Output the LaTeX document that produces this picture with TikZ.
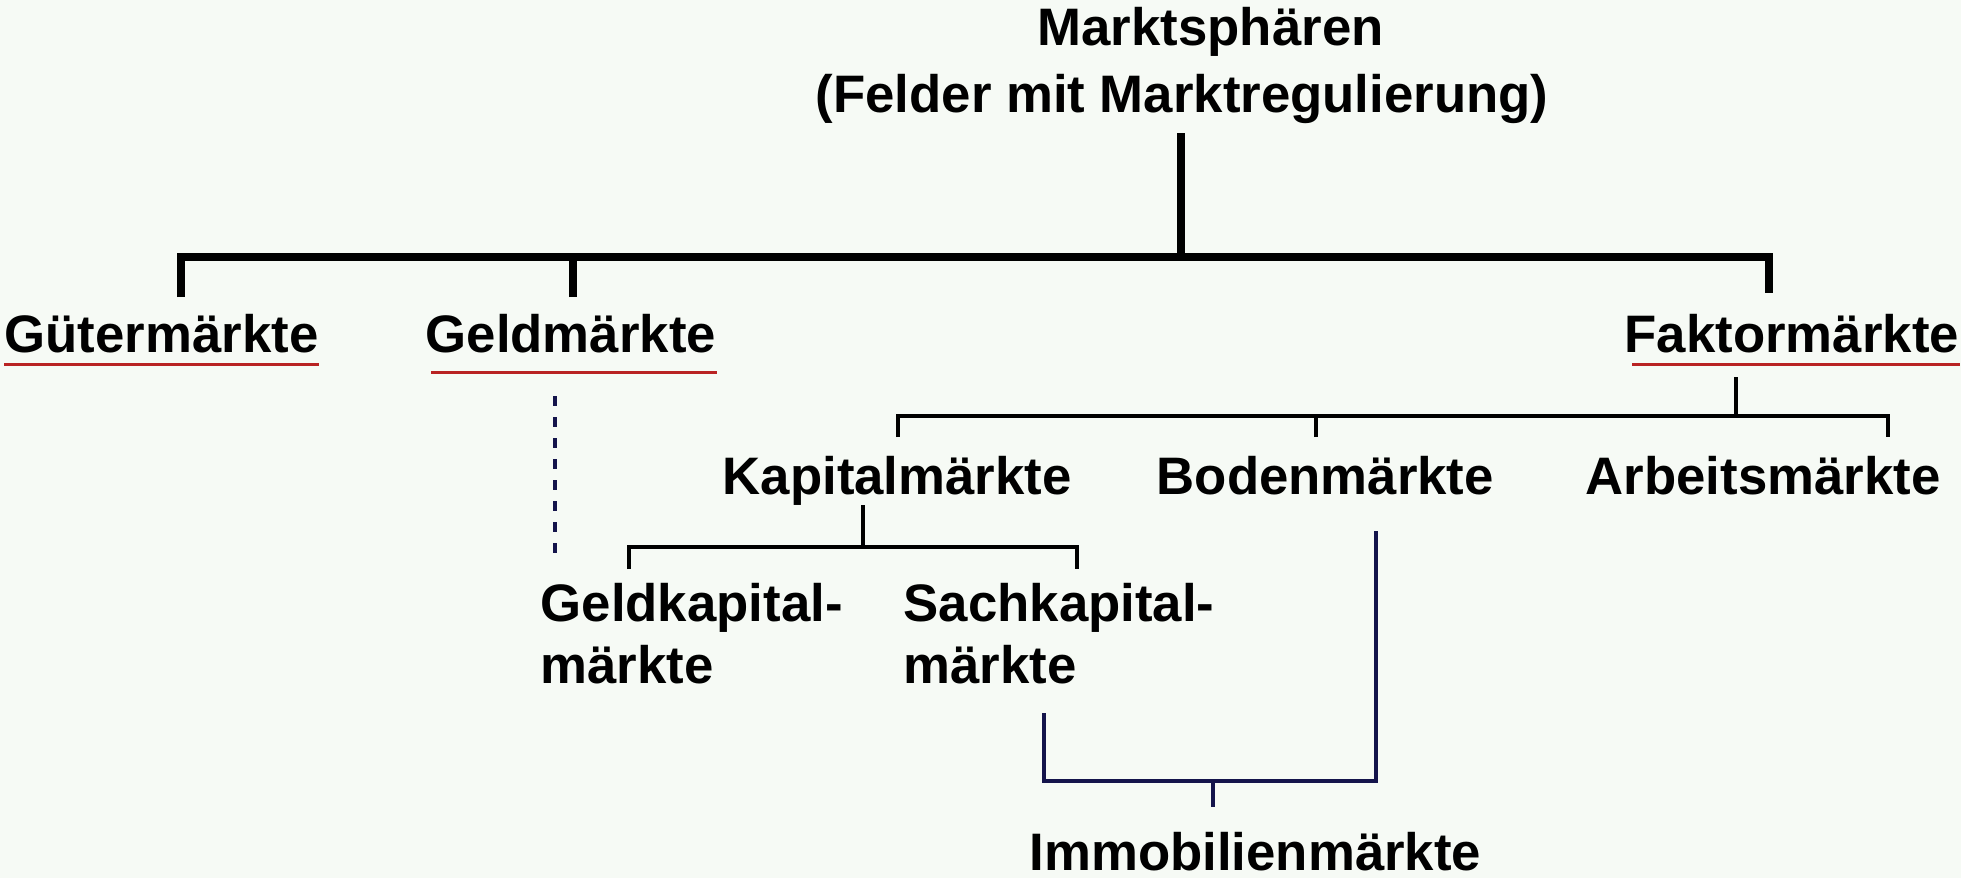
\documentclass[tikz,border=0pt]{standalone}
\usepackage{fontspec}
\setmainfont{Liberation Sans}
\usetikzlibrary{positioning}
\definecolor{grund}{RGB}{246,250,245}
\definecolor{strichrot}{RGB}{185,35,35}
\definecolor{marine}{RGB}{20,20,75}
\tikzset{
  txt/.style={anchor=base west,inner sep=0pt,font=\bfseries\fontsize{15}{17.4}\selectfont,align=left},
  balken/.style={line width=2.2pt},
  duenn/.style={line width=0.9pt},
  unter/.style={draw=strichrot,line width=0.85pt},
  blau/.style={draw=marine,line width=1pt},
}
\begin{document}
\begin{tikzpicture}[x=0.01cm,y=-0.01cm]
\fill[grund] (0,0) rectangle (1961,878);
\useasboundingbox (0,0) rectangle (1961,878);

% ueberschrift
\node[txt](ms) at (1037,45){Marktsphären};
\node[txt](fm) at (815,112){(Felder mit Marktregulierung)};

% erste ebene
\node[txt](gue) at (4,352){Gütermärkte};
\node[txt](geld) at (425,352){Geldmärkte};
\node[txt](fak) at (1624,352){Faktormärkte};

% zweite ebene
\node[txt](kap) at (722,494){Kapitalmärkte};
\node[txt](bod) at (1156,494){Bodenmärkte};
\node[txt](arb) at (1585,494){Arbeitsmärkte};

% dritte ebene (base = letzte zeile)
\node[txt](gk) at (540,683){Geldkapital-\\märkte};
\node[txt](sk) at (903,683){Sachkapital-\\märkte};
\node[txt](imm) at (1029,870){Immobilienmärkte};

% unterstreichungen
\draw[unter] ([yshift=-0.12cm]gue.base west) -- ([yshift=-0.12cm]gue.base east);
\draw[unter] ([yshift=-0.2cm,xshift=0.06cm]geld.base west) -- ([yshift=-0.2cm]geld.base east);
\draw[unter] ([yshift=-0.12cm,xshift=0.08cm]fak.base west) -- ([yshift=-0.12cm]fak.base east);

% hauptbaum
\coordinate (oben) at (1181,133);
\coordinate (gabel) at (1181,257);
\coordinate (gueE) at (181,297);
\coordinate (geldE) at (573,297);
\coordinate (fakE) at (1769,293);
\draw[balken] (oben) -- (gabel);
\draw[balken] (gueE) |- (gabel) -| (fakE);
\draw[balken] (geldE) -- (geldE |- gabel);

% faktormaerkte
\coordinate (fakA) at (1736,377);
\coordinate (fakG) at (1736,416);
\coordinate (kapE) at (898,437);
\coordinate (bodE) at (1316,437);
\coordinate (arbE) at (1888,437);
\draw[duenn] (fakA) -- (fakG);
\draw[duenn] (kapE) |- (fakG) -| (arbE);
\draw[duenn] (bodE) -- (bodE |- fakG);

% kapitalmaerkte
\coordinate (kapA) at (863,505);
\coordinate (kapG) at (863,547);
\coordinate (gkE) at (629,569);
\coordinate (skE) at (1077,569);
\draw[duenn] (kapA) -- (kapG);
\draw[duenn] (gkE) |- (kapG) -| (skE);

% geld -> geldkapital
\coordinate (geldA) at (555,396);
\coordinate (gkA) at (555,558);
\draw[blau,dash pattern=on 0.1cm off 0.11cm] (geldA) -- (gkA);

% immobilien
\coordinate (bodA) at (1376,531);
\coordinate (skA) at (1044,713);
\coordinate (immG) at (1213,781);
\coordinate (immE) at (1213,807);
\draw[blau] (skA) |- (immG) -| (bodA);
\draw[blau] (immG) -- (immE);

\end{tikzpicture}
\end{document}
